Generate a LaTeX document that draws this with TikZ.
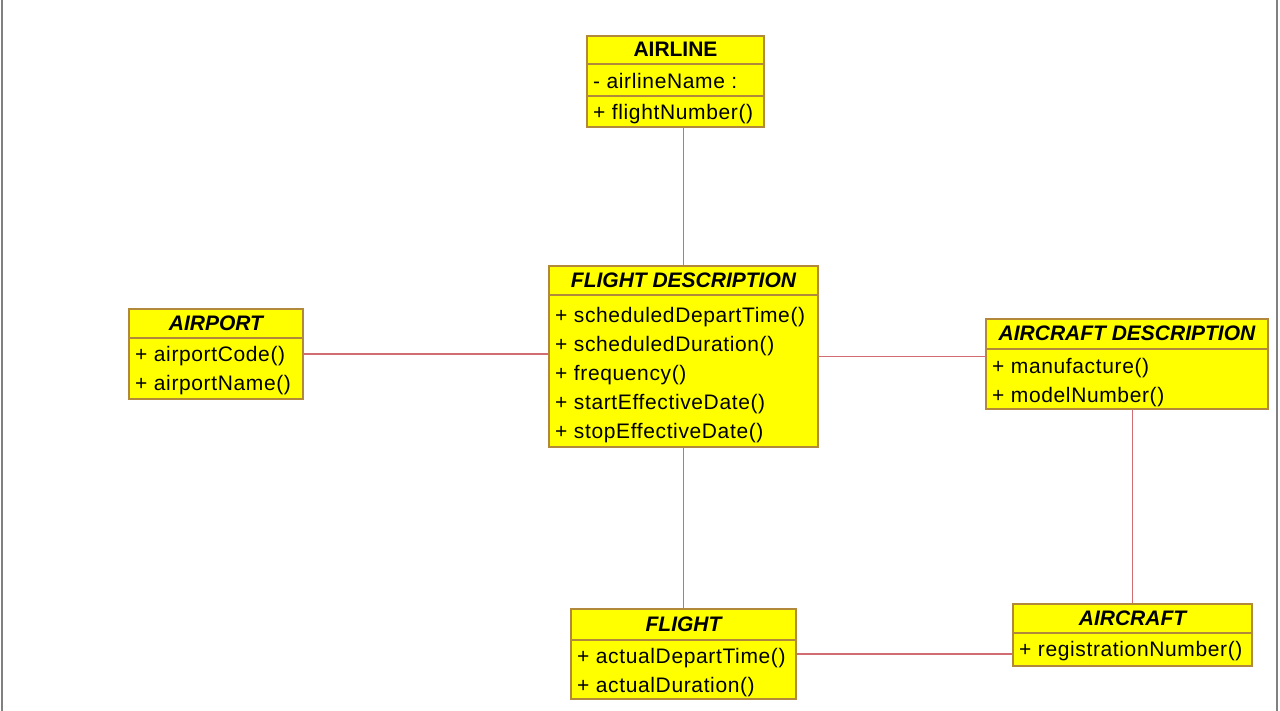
\documentclass[tikz,border=0pt]{standalone}
\usepackage{fontspec}
\setmainfont{Liberation Sans}
\newfontfamily\eintragfont[LetterSpace=3]{Liberation Sans}
\usetikzlibrary{positioning}

\definecolor{gelb}{RGB}{255,255,0}
\definecolor{kante}{RGB}{178,136,58}
\definecolor{linie}{RGB}{208,108,114}

\begin{document}
\begin{tikzpicture}
		[
		x=1pt, y=-1pt, font=\fontsize{21}{24}\selectfont,
		%Voreinstellungen fuer Klassen und Linien
		klasse/.style={draw=kante, fill=gelb, line width=2pt, inner sep=0pt, anchor=north west},
		titel/.style={anchor=north, inner sep=0pt, minimum height=30, font=\fontsize{21}{24}\selectfont\bfseries\itshape},
		eintrag/.style={anchor=north west, inner xsep=7, inner ysep=0, minimum height=28.5, font=\fontsize{21}{24}\eintragfont},
		trenn/.style={draw=kante, line width=2pt},
		verbindung/.style={draw=linie, line width=1.8pt}
		]
		
		\useasboundingbox (0,0) rectangle (1280,711);
		
		%Rahmen links und rechts
		\draw [gray, line width=2.5] (2,0) -- (2,711);
		\draw [gray, line width=2.5] (1277,0) -- (1277,711);
		
		%AIRLINE
		\node [klasse, minimum width=177, minimum height=91] (airline) at (586,35) {};
		\node [titel, minimum height=29, font=\fontsize{21}{24}\selectfont\bfseries] (airlineT) at (airline.north) {AIRLINE};
		\node [eintrag] (airline1) at ([yshift=-2]airline.west |- airlineT.south) {- airlineName :};
		\node [eintrag] (airline2) at ([yshift=-4]airline1.south west) {+ flightNumber()};
		\draw [trenn] (airline.west |- airlineT.south) -- (airline.east |- airlineT.south);
		\draw [trenn] ([yshift=-1]airline.west |- airline1.south) -- ([yshift=-1]airline.east |- airline1.south);
		
		%FLIGHT DESCRIPTION
		\node [klasse, minimum width=269, minimum height=181] (fdesc) at (548,265) {};
		\node [titel] (fdescT) at (fdesc.north) {FLIGHT DESCRIPTION};
		\draw [trenn] (fdesc.west |- fdescT.south) -- (fdesc.east |- fdescT.south);
		\foreach \t [count=\i from 0] in {+ scheduledDepartTime(), + scheduledDuration(), + frequency(), + startEffectiveDate(), + stopEffectiveDate()}
		\node [eintrag, minimum height=29] (fdesc\i) at ([yshift=-7-29*\i]fdesc.west |- fdescT.south) {\t};
		
		%AIRPORT
		\node [klasse, minimum width=174, minimum height=90] (airport) at (128,308) {};
		\node [titel] (airportT) at (airport.north) {AIRPORT};
		\node [eintrag] (airport1) at ([yshift=-3]airport.west |- airportT.south) {+ airportCode()};
		\node [eintrag] (airport2) at (airport1.south west) {+ airportName()};
		\draw [trenn] (airport.west |- airportT.south) -- (airport.east |- airportT.south);
		
		%AIRCRAFT DESCRIPTION
		\node [klasse, minimum width=282, minimum height=90] (adesc) at (985,318) {};
		\node [titel, minimum height=31] (adescT) at (adesc.north) {AIRCRAFT DESCRIPTION};
		\node [eintrag] (adesc1) at ([yshift=-4]adesc.west |- adescT.south) {+ manufacture()};
		\node [eintrag] (adesc2) at (adesc1.south west) {+ modelNumber()};
		\draw [trenn] (adesc.west |- adescT.south) -- (adesc.east |- adescT.south);
		
		%FLIGHT
		\node [klasse, minimum width=225, minimum height=90] (flight) at (570,608) {};
		\node [titel, minimum height=32] (flightT) at (flight.north) {FLIGHT};
		\node [eintrag] (flight1) at ([yshift=-3]flight.west |- flightT.south) {+ actualDepartTime()};
		\node [eintrag] (flight2) at (flight1.south west) {+ actualDuration()};
		\draw [trenn] (flight.west |- flightT.south) -- (flight.east |- flightT.south);
		
		%AIRCRAFT
		\node [klasse, minimum width=239, minimum height=62] (aircraft) at (1012,603) {};
		\node [titel] (aircraftT) at (aircraft.north) {AIRCRAFT};
		\node [eintrag] (aircraft1) at ([yshift=-3]aircraft.west |- aircraftT.south) {+ registrationNumber()};
		\draw [trenn] (aircraft.west |- aircraftT.south) -- (aircraft.east |- aircraftT.south);
		
		%Verbindungen
		\draw [verbindung] (fdesc.north) -- (fdesc.north |- airline.south);
		\draw [verbindung] (airport.east) -- (airport.east -| fdesc.west);
		\draw [verbindung] (fdesc.east) -- (fdesc.east -| adesc.west);
		\draw [verbindung] (fdesc.south) -- (fdesc.south |- flight.north);
		\draw [verbindung] (aircraft.north) -- (aircraft.north |- adesc.south);
		\draw [verbindung] (flight.east) -- (flight.east -| aircraft.west);
	\end{tikzpicture}
\end{document}
